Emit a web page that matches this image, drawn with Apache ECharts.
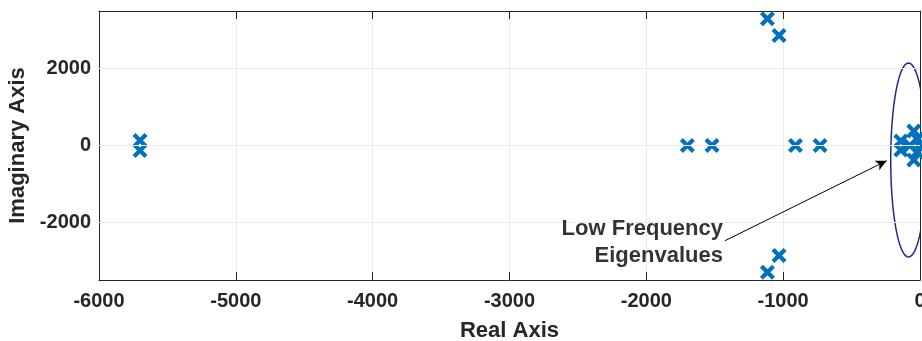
<!DOCTYPE html>
<html>
<head>
<meta charset="utf-8">
<script src="https://cdn.jsdelivr.net/npm/echarts@6/dist/echarts.min.js"></script>
<style>
    html, body { margin: 0; padding: 0; background: #fff; }
    #chart { width: 922px; height: 341px; }
</style>
</head>
<body>
<div id="chart"></div>
<script>
// eigenvalues (real part, imaginary part)
const realPart = [
    -5700, -5700,
    -1115, -1030, -1030, -1115,
    -1700, -1520, -910, -730,
    -140, -140, -75, -45, -45, -20, -20, -5,
];
const imagPart = [
    130, -130,
    3300, 2860, -2860, -3300,
    0, 0, 0, 0,
    120, -120, 0, 380, -380, 170, -170, 0,
];

const xTicks = [-6000, -5000, -4000, -3000, -2000, -1000, 0];
const yTicks = [-2000, 0, 2000];

// annotation: ellipse round the low frequency modes, arrow and its text
const ellipse = { cx: -84, cy: -377, rx: 130, ry: 2524 };
const arrowFrom = [-1425, -2477];
const arrowTo = [-243, -396];
const noteLines = ["Low Frequency", "Eigenvalues"];
const notePos = [[-1440, -2173], [-1440, -2875]];

const textColor = "#262626";
const markerColor = "#0072BD";
const xMark = "path://M0,2L2,0L5,3L8,0L10,2L7,5L10,8L8,10L5,7L2,10L0,8L3,5Z";

const points = realPart.map((re, i) => [re, imagPart[i]]);

const tickStyle = { inside: true, length: 8, lineStyle: { color: textColor, width: 1 } };
const lineStyle = { show: true, onZero: false, lineStyle: { color: textColor, width: 1 } };
const plain = (v) => String(v);

const option = {
    animation: false,
    grid: { left: 99, right: 2, top: 11, bottom: 61, outerBoundsMode: "none", containLabel: false },
    xAxis: [
        {
            type: "value",
            min: -6000,
            max: 0,
            interval: 1000,
            name: "Real Axis",
            nameLocation: "middle",
            nameGap: 40,
            nameTextStyle: { fontSize: 22, fontWeight: "bold", color: textColor, fontFamily: "Liberation Sans" },
            axisLine: lineStyle,
            axisTick: tickStyle,
            axisLabel: {
                fontSize: 20, fontWeight: "bold", color: textColor, margin: 11, fontFamily: "Liberation Sans",
                customValues: xTicks, formatter: plain,
            },
            splitLine: { show: true, lineStyle: { color: "#ebebeb", width: 1 } },
        },
        {
            type: "value",
            position: "top",
            min: -6000,
            max: 0,
            interval: 1000,
            axisLine: lineStyle,
            axisTick: tickStyle,
            axisLabel: { show: false },
            splitLine: { show: false },
        },
    ],
    yAxis: [
        {
            type: "value",
            min: -3500,
            max: 3500,
            name: "Imaginary Axis",
            nameLocation: "middle",
            nameGap: 63,
            nameTextStyle: { fontSize: 22, fontWeight: "bold", color: textColor, fontFamily: "Liberation Sans" },
            axisLine: lineStyle,
            axisTick: Object.assign({ customValues: yTicks }, tickStyle),
            axisLabel: {
                fontSize: 20, fontWeight: "bold", color: textColor, margin: 8, fontFamily: "Liberation Sans",
                customValues: yTicks, formatter: plain,
            },
            splitLine: { show: false },
        },
        {
            type: "value",
            position: "right",
            min: -3500,
            max: 3500,
            axisLine: lineStyle,
            axisTick: Object.assign({ customValues: yTicks }, tickStyle),
            axisLabel: { show: false },
            splitLine: { show: false },
        },
    ],
    series: [
        {
            // horizontal grid lines (the y axis range is not a multiple of its step)
            type: "line",
            data: [],
            z: 0,
            silent: true,
            markLine: {
                silent: true,
                symbol: ["none", "none"],
                label: { show: false },
                lineStyle: { color: "#ebebeb", width: 1, type: "solid" },
                data: yTicks.map((v) => ({ yAxis: v })),
            },
        },
        {
            name: "eigenvalues",
            type: "scatter",
            symbol: xMark,
            symbolSize: 15,
            itemStyle: { color: markerColor, opacity: 1 },
            z: 3,
            data: points,
        },
        {
            name: "ellipse",
            type: "custom",
            silent: true,
            z: 4,
            data: [[ellipse.cx, ellipse.cy, ellipse.rx, ellipse.ry]],
            renderItem: (params, api) => {
                const c = api.coord([api.value(0), api.value(1)]);
                const edge = api.coord([api.value(0) + api.value(2), api.value(1) + api.value(3)]);
                const rx = Math.abs(edge[0] - c[0]);
                const ry = Math.abs(edge[1] - c[1]);
                const pts = [];
                for (let k = 0; k <= 96; k++) {
                    const t = (k / 96) * Math.PI * 2;
                    pts.push([c[0] + rx * Math.cos(t), c[1] + ry * Math.sin(t)]);
                }
                return {
                    type: "polyline",
                    shape: { points: pts },
                    style: { stroke: "#1f2a8a", lineWidth: 1.5, fill: null },
                    clipPath: {
                        type: "rect",
                        shape: params.coordSys,
                    },
                };
            },
        },
        {
            name: "note",
            type: "scatter",
            symbolSize: 0,
            silent: true,
            z: 5,
            data: notePos.map((p, i) => ({ value: p, name: noteLines[i] })),
            label: {
                show: true,
                position: "left",
                distance: 0,
                formatter: (p) => p.name,
                fontSize: 22,
                fontWeight: "bold",
                color: "#000",
                fontFamily: "Liberation Sans",
            },
            markLine: {
                silent: true,
                symbol: ["none", "arrow"],
                symbolSize: [8, 11],
                label: { show: false },
                lineStyle: { color: "#000", width: 1, type: "solid" },
                data: [[{ coord: arrowFrom }, { coord: arrowTo }]],
            },
        },
    ],
};

const chart = echarts.init(document.getElementById("chart"));
chart.setOption(option);
</script>
</body>
</html>
